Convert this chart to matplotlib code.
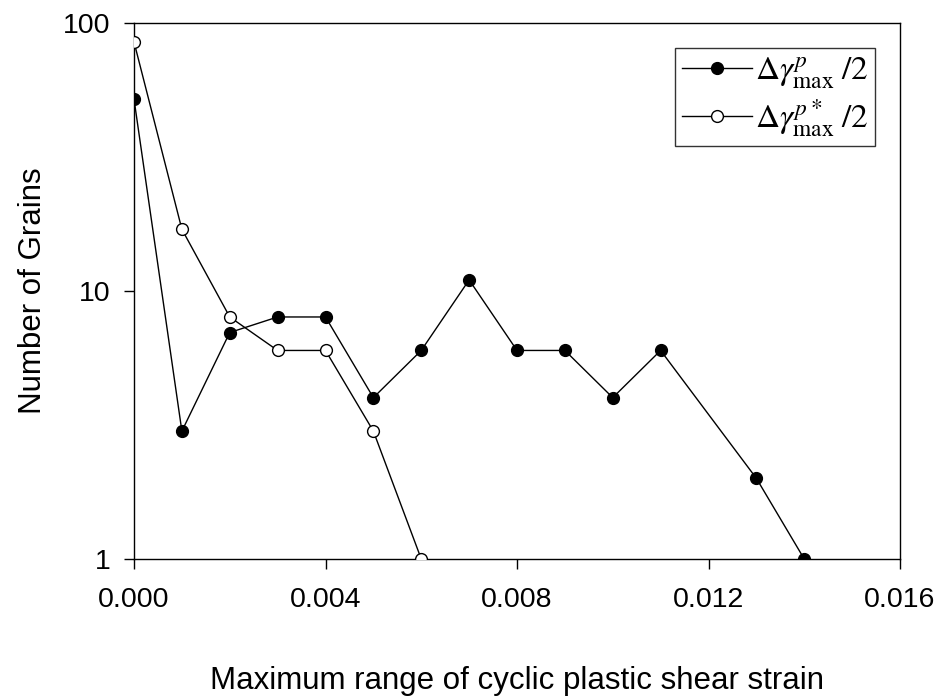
import matplotlib
matplotlib.use("Agg")
import matplotlib.pyplot as plt
from matplotlib.ticker import FixedLocator, NullLocator

x_filled = [0.000, 0.001, 0.002, 0.003, 0.004, 0.005, 0.006, 0.007, 0.008, 0.009, 0.010, 0.011, 0.013, 0.014]
y_filled = [52, 3, 7, 8, 8, 4, 6, 11, 6, 6, 4, 6, 2, 1]
x_open = [0.000, 0.001, 0.002, 0.003, 0.004, 0.005, 0.006]
y_open = [85, 17, 8, 6, 6, 3, 1]
x_ticks = [0.000, 0.004, 0.008, 0.012, 0.016]
x_ticklabels = ["0.000", "0.004", "0.008", "0.012", "0.016"]
y_ticks = [1, 10, 100]
y_ticklabels = ["1", "10", "100"]

plt.rcParams['font.family'] = ['Liberation Sans', 'DejaVu Sans']
plt.rcParams['mathtext.fontset'] = 'stix'

fig = plt.figure(figsize=(9.42, 6.98), dpi=100)
ax = fig.add_axes([134/942, 1 - 559/698, (900 - 134)/942, (559 - 23)/698])

ax.plot(x_filled, y_filled, color='black', lw=1.0, marker='o', ms=8.5,
        mfc='black', mec='black', mew=1.0, label=r'$\Delta\gamma^{p}_{\max}\;/2$', zorder=3)
ax.plot(x_open, y_open, color='black', lw=1.0, marker='o', ms=8.5,
        mfc='white', mec='black', mew=1.0, label=r'$\Delta\gamma^{p*}_{\max}\;/2$', zorder=3)

ax.set_yscale('log')
ax.set_xlim(0, 0.016)
ax.set_ylim(1, 100)
ax.xaxis.set_major_locator(FixedLocator(x_ticks))
ax.set_xticklabels(x_ticklabels)
ax.yaxis.set_major_locator(FixedLocator(y_ticks))
ax.yaxis.set_minor_locator(NullLocator())
ax.set_yticklabels(y_ticklabels)
ax.tick_params(axis='both', direction='out', length=7, width=1.0, labelsize=20.5)
ax.tick_params(axis='x', pad=13)
ax.tick_params(axis='y', pad=10)
for s in ax.spines.values():
    s.set_linewidth(1.0)

ax.set_xlabel('Maximum range of cyclic plastic shear strain', fontsize=22.5, labelpad=38)
ax.set_ylabel('Number of Grains', fontsize=22.5, labelpad=11)

leg = ax.legend(loc='upper right', bbox_to_anchor=(875/942, 1 - 48/698), bbox_transform=fig.transFigure,
                fontsize=24, frameon=True, fancybox=False, edgecolor='black',
                handlelength=2.1, handletextpad=0.1, borderpad=0.2, labelspacing=0.2,
                borderaxespad=0)
leg.get_frame().set_linewidth(1.0)

fig.savefig('out.png', dpi=100)
